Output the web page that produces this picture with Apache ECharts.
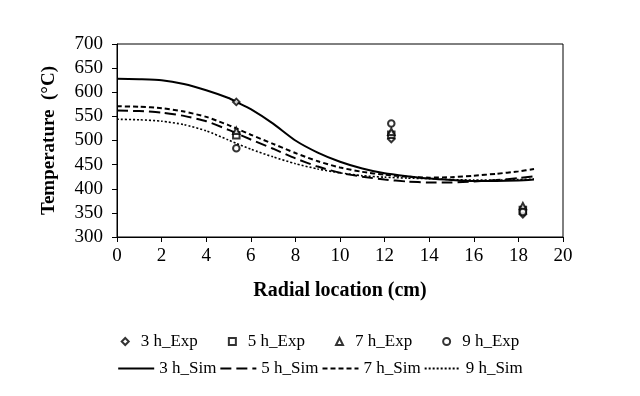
<!DOCTYPE html>
<html><head><meta charset="utf-8">
<script src="https://cdn.jsdelivr.net/npm/echarts@6/dist/echarts.min.js"></script>
<style>html,body{margin:0;padding:0;background:#fff}#c{width:640px;height:396px}</style>
</head><body><div id="c"></div>
<script>
// ---- data ----
const expX = [5.35, 12.3, 18.2];
const exp3h = [580, 503, 347];
const exp5h = [511, 512, 356];
const exp7h = [520, 518, 364];
const exp9h = [484, 535, 352];

const simX = [0,1,2,3,4,5,5.35,6,7,8,9,10,11,12,13,14,15,16,17,18,18.7];
const sim3h = [628,627,625,617,604,588,580,565,535,500,475,456,442,432,426,421,418,416,416,417,419];
const sim5h = [562,561,558,551,540,522,515,502,483,463,446,433,425,419,415,413,413,415,418,422,426];
const sim7h = [571,570,567,560,549,532,525,512,493,474,457,444,435,429,425,423,424,427,431,436,441];
const sim9h = [544,543,540,533,520,501,494,482,466,452,441,433,427,424,422,421,419,418,418,419,420];

const expNames = ['3 h_Exp','5 h_Exp','7 h_Exp','9 h_Exp'];
const simNames = ['3 h_Sim','5 h_Sim','7 h_Sim','9 h_Sim'];

const zip = (xs, ys) => xs.map((x, i) => [x, ys[i]]);
const FONT = 'Liberation Serif';

const expSymbols = ['emptyDiamond','emptyRect','emptyTriangle','emptyCircle'];
const expData = [exp3h, exp5h, exp7h, exp9h];
const simData = [sim3h, sim5h, sim7h, sim9h];
const simDash = ['solid', [11,5], [5,3], [2,2]];
const simWidth = [2, 2, 2, 1.6];

const series = [];
expData.forEach((d, i) => series.push({
  name: expNames[i], type: 'scatter', data: zip(expX, d),
  symbol: expSymbols[i], symbolSize: 6.5,
  itemStyle: {color: '#000', borderColor: '#000', borderWidth: 1}, z: 5
}));
simData.forEach((d, i) => series.push({
  name: simNames[i], type: 'line', data: zip(simX, d), symbol: 'none', smooth: 0.2,
  lineStyle: {color: '#000', width: simWidth[i], type: simDash[i]},
  itemStyle: {color: '#000'}
}));

const chart = echarts.init(document.getElementById('c'), null, {renderer: 'canvas'});
chart.setOption({
  animation: false,
  backgroundColor: '#fff',
  textStyle: {fontFamily: FONT, color: '#000'},
  grid: {left: 117, right: 77, top: 44, bottom: 159, show: true, borderColor: '#000', borderWidth: 1},
  xAxis: {
    type: 'value', min: 0, max: 20, interval: 2,
    name: 'Radial location (cm)', nameLocation: 'middle', nameGap: 44,
    nameTextStyle: {fontFamily: FONT, fontWeight: 'bold', fontSize: 20, color: '#000'},
    axisLine: {lineStyle: {color: '#000', width: 1}},
    axisTick: {inside: false, length: 5, lineStyle: {color: '#000'}},
    axisLabel: {fontFamily: FONT, fontSize: 19, color: '#000', margin: 10},
    splitLine: {show: false}
  },
  yAxis: {
    type: 'value', min: 300, max: 700, interval: 50,
    name: 'Temperature  (°C)', nameLocation: 'middle', nameGap: 58, nameRotate: 90,
    nameTextStyle: {fontFamily: FONT, fontWeight: 'bold', fontSize: 19, color: '#000'},
    axisLine: {show: true, lineStyle: {color: '#000', width: 1}},
    axisTick: {show: true, inside: false, length: 5, lineStyle: {color: '#000'}},
    axisLabel: {fontFamily: FONT, fontSize: 19, color: '#000', margin: 14},
    splitLine: {show: false}
  },
  legend: [
    {data: expNames, left: 'center', top: 328, itemWidth: 7, itemHeight: 7, itemGap: 30,
     textStyle: {fontFamily: FONT, fontSize: 17, color: '#000', padding: [0,0,0,7]}},
    {data: simNames, left: 'center', top: 355, itemWidth: 36, itemHeight: 10, itemGap: 3,
     itemStyle: {opacity: 0, color: 'rgba(0,0,0,0)', borderWidth: 0},
     textStyle: {fontFamily: FONT, fontSize: 17, color: '#000'}}
  ],
  series: series
});
</script></body></html>
